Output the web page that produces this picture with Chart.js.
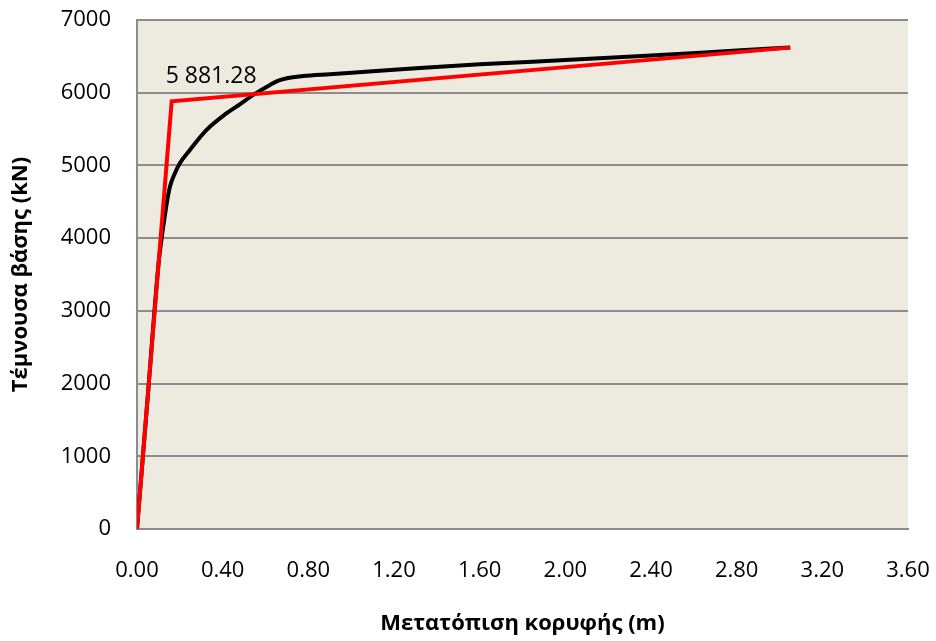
<!DOCTYPE html>
<html>
<head>
<meta charset="utf-8">
<script src="https://cdn.jsdelivr.net/npm/chart.js@4/dist/chart.umd.min.js"></script>
<style>
  html, body { margin: 0; padding: 0; background: #ffffff; }
  #wrap { width: 936px; height: 641px; }
</style>
</head>
<body>
<div id="wrap"><canvas id="c" width="936" height="641"></canvas></div>
<script>
// Pushover capacity curve: top displacement (m) vs base shear (kN)
const pushoverDisp  = [0, 0.05, 0.10, 0.115, 0.127, 0.14, 0.154, 0.175, 0.20, 0.247, 0.325, 0.419, 0.48, 0.543, 0.621, 0.66, 0.70, 0.776, 0.90, 1.10, 1.321, 1.60, 2.00, 2.40, 2.80, 3.05];
const pushoverShear = [0, 1815, 3630, 4000, 4250, 4500, 4709, 4880, 5030, 5213, 5488, 5718, 5840, 5970, 6107, 6165, 6200, 6230, 6255, 6295, 6340, 6390, 6450, 6512, 6580, 6622];

// Idealised bilinear curve
const bilinearDisp  = [0, 0.162, 3.05];
const bilinearShear = [0, 5881.28, 6620];

const xTickValues = [0, 0.4, 0.8, 1.2, 1.6, 2.0, 2.4, 2.8, 3.2, 3.6];
const yTickValues = [0, 1000, 2000, 3000, 4000, 5000, 6000, 7000];
const yieldLabel = '5 881.28';

const toPoints = (xs, ys) => xs.map((x, i) => ({ x: x, y: ys[i] }));

const FONT = "'Open Sans', Lato, sans-serif";

const plotBackground = {
  id: 'plotBackground',
  beforeDraw(chart) {
    const { ctx, chartArea: a } = chart;
    ctx.save();
    ctx.fillStyle = '#EDEAE0';
    ctx.fillRect(a.left, a.top, a.right - a.left, a.bottom - a.top);
    ctx.restore();
  }
};

const yieldPointLabel = {
  id: 'yieldPointLabel',
  afterDatasetsDraw(chart) {
    const { ctx, scales } = chart;
    const px = scales.x.getPixelForValue(bilinearDisp[1]);
    const py = scales.y.getPixelForValue(bilinearShear[1]);
    ctx.save();
    ctx.font = '23px ' + FONT;
    ctx.fillStyle = '#000';
    ctx.textAlign = 'left';
    ctx.textBaseline = 'alphabetic';
    ctx.fillText(yieldLabel, px - 6, py - 18);
    ctx.restore();
  }
};

new Chart(document.getElementById('c'), {
  type: 'scatter',
  data: {
    datasets: [
      {
        label: 'Διγραμμική',
        data: toPoints(bilinearDisp, bilinearShear),
        showLine: true,
        borderColor: '#FF0000',
        borderWidth: 4,
        pointRadius: 0,
        tension: 0
      },
      {
        label: 'Καμπύλη αντίστασης',
        data: toPoints(pushoverDisp, pushoverShear),
        showLine: true,
        borderColor: '#000000',
        borderWidth: 4,
        pointRadius: 0,
        cubicInterpolationMode: 'monotone'
      }
    ]
  },
  options: {
    responsive: false,
    animation: false,
    layout: { padding: { top: 20, right: 28, left: 0, bottom: 0 } },
    plugins: {
      legend: { display: false },
      tooltip: { enabled: false }
    },
    scales: {
      x: {
        type: 'linear',
        min: 0,
        max: 3.6,
        afterBuildTicks(axis) { axis.ticks = xTickValues.map(v => ({ value: v })); },
        afterFit(axis) {
          axis.height = 112;
          axis.paddingLeft = 0;
          axis.paddingRight = 0;
        },
        grid: { display: false, drawTicks: false },
        border: { display: true, color: '#8C8C8C', width: 2 },
        ticks: {
          color: '#000',
          font: { family: FONT, size: 22 },
          padding: 29,
          maxRotation: 0,
          callback: v => Number(v).toFixed(2)
        },
        title: {
          display: true,
          text: 'Μετατόπιση κορυφής (m)',
          color: '#000',
          font: { family: FONT, size: 22, weight: 'bold' },
          padding: { top: 18, bottom: 4 }
        }
      },
      y: {
        type: 'linear',
        min: 0,
        max: 7000,
        afterBuildTicks(axis) { axis.ticks = yTickValues.map(v => ({ value: v })); },
        afterFit(axis) {
          axis.width = 137;
          axis.paddingTop = 0;
          axis.paddingBottom = 0;
        },
        grid: { color: '#8C8C8C', lineWidth: 2, drawTicks: false },
        border: { display: true, color: '#8C8C8C', width: 2 },
        ticks: {
          color: '#000',
          font: { family: FONT, size: 22 },
          padding: 26,
          callback: v => String(v)
        },
        title: {
          display: true,
          text: 'Τέμνουσα βάσης (kN)',
          color: '#000',
          font: { family: FONT, size: 22, weight: 'bold' },
          padding: { top: 8, bottom: 0 }
        }
      }
    }
  },
  plugins: [plotBackground, yieldPointLabel]
});
</script>
</body>
</html>
